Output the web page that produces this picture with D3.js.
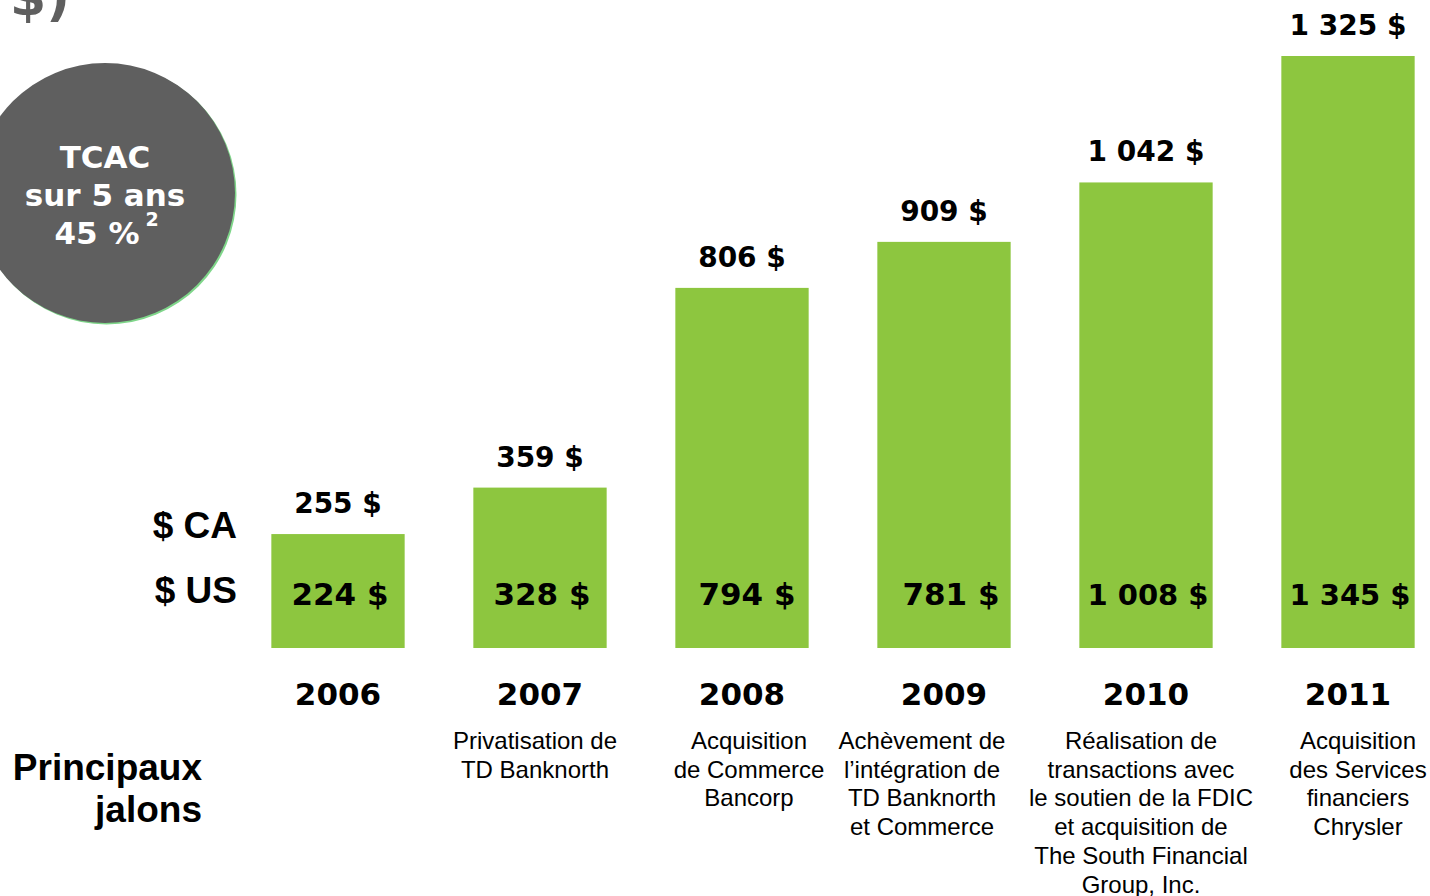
<!DOCTYPE html>
<html>
<head>
<meta charset="utf-8">
<script src="https://cdn.jsdelivr.net/npm/d3@7"></script>
<style>
  html, body { margin: 0; padding: 0; background: #fff; overflow: hidden; }
  svg { display: block; }
  .wide { font-family: 'DejaVu Sans', Verdana, sans-serif; font-weight: bold; }
  .arial { font-family: 'Liberation Sans', Arial, sans-serif; }
</style>
</head>
<body>
<svg id="chart" width="1430" height="896"></svg>
<script>
// data
const years = ['2006', '2007', '2008', '2009', '2010', '2011'];
const caValues = [255, 359, 806, 909, 1042, 1325];
const usValues = [224, 328, 794, 781, 1008, 1345];
const milestones = [
  [],
  ['Privatisation de', 'TD Banknorth'],
  ['Acquisition', 'de Commerce', 'Bancorp'],
  ['Achèvement de', 'l’intégration de', 'TD Banknorth', 'et Commerce'],
  ['Réalisation de', 'transactions avec', 'le soutien de la FDIC', 'et acquisition de', 'The South Financial', 'Group, Inc.'],
  ['Acquisition', 'des Services', 'financiers', 'Chrysler']
];
const cagrLines = ['TCAC', 'sur 5 ans', '45 %'];

// layout
const noteNudge = [0, -5, 7, -22, -5, 10];
const usNudge = [2, 2, 5, 7, 2, 2];
const green = '#8dc63f';
const grey = '#5f5f5f';

let svg = d3.select('#chart');
let fmt = v => d3.format(',d')(v).replace(/,/g, ' ') + ' $';

let x = d3.scaleBand()
  .domain(years)
  .range([237, 1449])
  .paddingInner(0.34)
  .paddingOuter(0.17);

let y = d3.scaleLinear()
  .domain([0, 1325])
  .range([648, 56]);

// title remnant, cut by the top edge
svg.append('text')
  .attr('class', 'wide')
  .attr('x', 70).attr('y', 15)
  .attr('text-anchor', 'end')
  .style('font-size', '52px')
  .style('fill', grey)
  .text('(en millions de $)');

// CAGR bubble
let bubble = svg.append('g').attr('transform', 'translate(105,193)');
bubble.append('circle').attr('r', 130).attr('cx', 1.5).attr('cy', 1.5).style('fill', '#7fd68a');
bubble.append('circle').attr('r', 130).style('fill', grey);
bubble.selectAll('text.cagr')
  .data(cagrLines)
  .enter().append('text')
  .attr('class', 'cagr wide')
  .attr('x', (d, i) => i === 2 ? -8 : 0)
  .attr('y', (d, i) => -25 + i * 38)
  .attr('text-anchor', 'middle')
  .style('font-size', '31px')
  .style('fill', '#fff')
  .text(d => d);
bubble.append('text')
  .attr('class', 'wide')
  .attr('x', 47).attr('y', 33)
  .attr('text-anchor', 'middle')
  .style('font-size', '19px')
  .style('fill', '#fff')
  .text('2');

// bars
let col = svg.selectAll('.col')
  .data(years)
  .enter().append('g')
  .attr('class', 'col');

col.append('rect')
  .attr('x', d => x(d))
  .attr('y', (d, i) => y(caValues[i]))
  .attr('width', x.bandwidth())
  .attr('height', (d, i) => y(0) - y(caValues[i]))
  .style('fill', green);

col.append('text')
  .attr('class', 'wide')
  .attr('x', d => x(d) + x.bandwidth() / 2)
  .attr('y', (d, i) => y(caValues[i]) - 21)
  .attr('text-anchor', 'middle')
  .style('font-size', '28px')
  .text((d, i) => fmt(caValues[i]));

col.append('text')
  .attr('class', 'wide')
  .attr('x', (d, i) => x(d) + x.bandwidth() / 2 + usNudge[i])
  .attr('y', 605)
  .attr('text-anchor', 'middle')
  .style('font-size', (d, i) => usValues[i] >= 1000 ? '29px' : '31px')
  .text((d, i) => fmt(usValues[i]));

col.append('text')
  .attr('class', 'wide')
  .attr('x', d => x(d) + x.bandwidth() / 2)
  .attr('y', 705)
  .attr('text-anchor', 'middle')
  .style('font-size', '31px')
  .text(d => d);

col.each(function (d, i) {
  d3.select(this).selectAll('text.note')
    .data(milestones[i])
    .enter().append('text')
    .attr('class', 'note arial')
    .attr('x', x(d) + x.bandwidth() / 2 + noteNudge[i])
    .attr('y', (t, j) => 749 + j * 28.7)
    .attr('text-anchor', 'middle')
    .style('font-size', '24px')
    .text(t => t);
});

// row labels
[['$ CA', 538], ['$ US', 603]].forEach(([t, ty]) => {
  svg.append('text')
    .attr('class', 'arial')
    .attr('x', 237).attr('y', ty)
    .attr('text-anchor', 'end')
    .style('font-size', '37px')
    .style('font-weight', 'bold')
    .text(t);
});

[['Principaux', 780], ['jalons', 822]].forEach(([t, ty]) => {
  svg.append('text')
    .attr('class', 'arial')
    .attr('x', 202).attr('y', ty)
    .attr('text-anchor', 'end')
    .style('font-size', '37px')
    .style('font-weight', 'bold')
    .text(t);
});
</script>
</body>
</html>
